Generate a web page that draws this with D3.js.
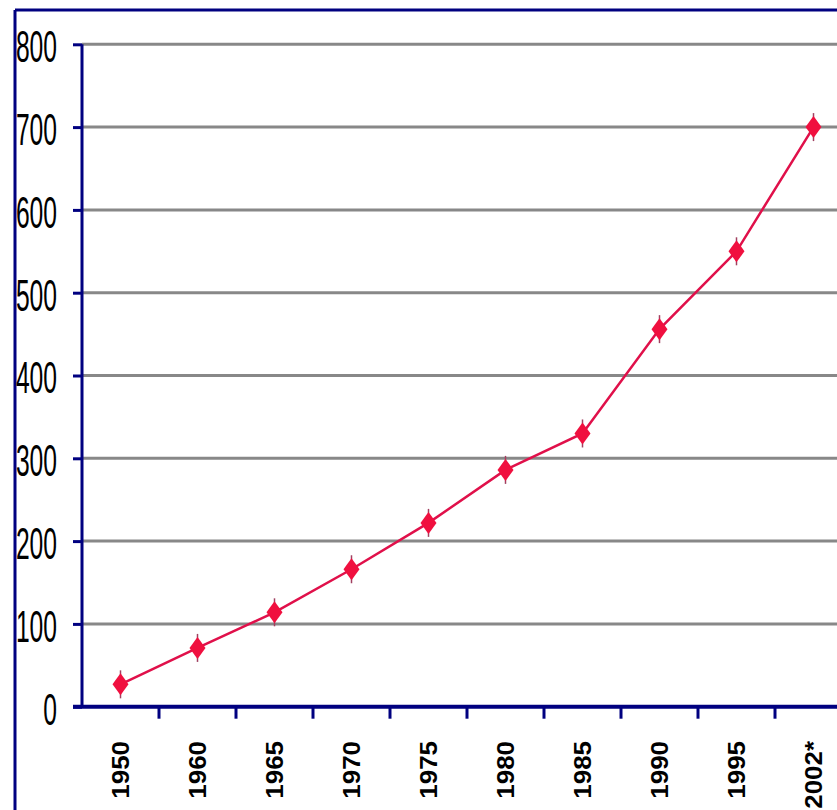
<!DOCTYPE html>
<html>
<head>
<meta charset="utf-8">
<script src="https://cdn.jsdelivr.net/npm/d3@7"></script>
<style>
  body { margin: 0; background: #fff; }
  svg { display: block; }
</style>
</head>
<body>
<svg></svg>
<script>
// chart data
var years = ["1950", "1960", "1965", "1970", "1975", "1980", "1985", "1990", "1995", "2002*"];
var values = [27, 71, 114, 166, 222, 286, 330, 456, 550, 700];
var yTicks = [0, 100, 200, 300, 400, 500, 600, 700, 800];

document.addEventListener("DOMContentLoaded", function(event) {
    drawChart();
});

function drawChart() {
    var svgWidth = 837, svgHeight = 810;
    var navy = "#000080";

    var svg = d3.select("svg")
        .attr("width", svgWidth)
        .attr("height", svgHeight);

    // outer frame (only top and left show in the crop)
    svg.append("line")
        .attr("x1", 15).attr("x2", svgWidth)
        .attr("y1", 10).attr("y2", 10)
        .attr("stroke", navy).attr("stroke-width", 3);
    svg.append("line")
        .attr("x1", 15).attr("x2", 15)
        .attr("y1", 10).attr("y2", svgHeight)
        .attr("stroke", navy).attr("stroke-width", 3);

    // band scale runs past the right edge, as in the cropped original
    var x = d3.scaleBand()
        .domain(years)
        .range([82, 852]);

    var y = d3.scaleLinear()
        .domain([0, 800])
        .range([706.7, 44.3]);

    // horizontal gridlines
    svg.append("g")
        .selectAll("line")
        .data(yTicks.filter(function(d) { return d > 0; }))
        .enter().append("line")
        .attr("x1", 82).attr("x2", svgWidth)
        .attr("y1", function(d) { return y(d); })
        .attr("y2", function(d) { return y(d); })
        .attr("stroke", "#888")
        .attr("stroke-width", 3);

    // y axis: ticks + tall narrow labels
    var yAxis = svg.append("g")
        .attr("transform", "translate(82,0)")
        .call(d3.axisLeft(y).tickValues(yTicks).tickSize(9).tickFormat(""));
    yAxis.select(".domain")
        .attr("d", "M0," + y(800) + "V" + y(0))
        .attr("stroke", navy).attr("stroke-width", 3);
    yAxis.selectAll(".tick line")
        .attr("stroke", navy).attr("stroke-width", 3);

    svg.append("g")
        .selectAll("text")
        .data(yTicks)
        .enter().append("text")
        .attr("transform", function(d) { return "translate(57," + (y(d) + 2) + ") scale(0.56,1)"; })
        .attr("text-anchor", "end")
        .attr("dy", "0.36em")
        .attr("font-family", "Liberation Sans, Arial, sans-serif")
        .attr("font-size", 44)
        .attr("fill", "#000")
        .text(function(d) { return d; });

    // x axis: ticks at band edges, rotated labels
    var bandEdges = years.map(function(d) { return x(d); });
    var xAxis = svg.append("g");
    xAxis.append("line")
        .attr("x1", 73).attr("x2", svgWidth)
        .attr("y1", y(0)).attr("y2", y(0))
        .attr("stroke", navy).attr("stroke-width", 4);
    xAxis.selectAll(".xtick")
        .data(bandEdges.slice(1))
        .enter().append("line")
        .attr("class", "xtick")
        .attr("x1", function(d) { return d; })
        .attr("x2", function(d) { return d; })
        .attr("y1", y(0)).attr("y2", y(0) + 12)
        .attr("stroke", navy).attr("stroke-width", 3);
    xAxis.selectAll("text")
        .data(years)
        .enter().append("text")
        .attr("transform", function(d) {
            return "translate(" + (x(d) + x.bandwidth() / 2) + ",741) rotate(-90) scale(1.08,1)";
        })
        .attr("text-anchor", "end")
        .attr("dy", "0.36em")
        .attr("font-family", "Liberation Sans, Arial, sans-serif")
        .attr("font-weight", "bold")
        .attr("font-size", 24)
        .attr("fill", "#000")
        .text(function(d) { return d; });

    // the series line
    var points = years.map(function(d, i) { return { year: d, value: values[i] }; });
    var line = d3.line()
        .x(function(d) { return x(d.year) + x.bandwidth() / 2; })
        .y(function(d) { return y(d.value); });

    svg.append("path")
        .datum(points)
        .attr("fill", "none")
        .attr("stroke", "#e0104a")
        .attr("stroke-width", 2.5)
        .attr("d", line);

    // star-like markers: thin vertical stroke + diamond
    var markers = svg.append("g")
        .selectAll("g")
        .data(points)
        .enter().append("g")
        .attr("transform", function(d) {
            return "translate(" + (x(d.year) + x.bandwidth() / 2) + "," + y(d.value) + ")";
        });
    markers.append("line")
        .attr("y1", -14).attr("y2", 14)
        .attr("stroke", "#a04060")
        .attr("stroke-width", 1.5);
    markers.append("path")
        .attr("d", "M0,-11L8,0L0,11L-8,0Z")
        .attr("fill", "#f0103f");
}
</script>
</body>
</html>
